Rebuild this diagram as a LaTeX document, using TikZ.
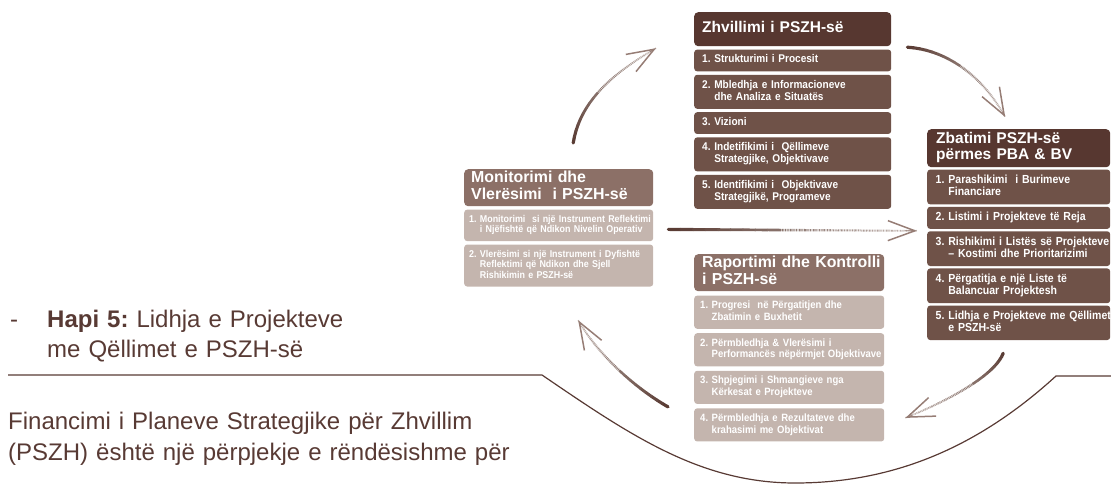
\documentclass[tikz,border=0pt]{standalone}
\usepackage{fontspec}
\setmainfont{Liberation Sans}
\newfontfamily\itemfont[FakeStretch=0.9]{Liberation Sans}
\usetikzlibrary{arrows.meta, positioning}
\usepackage{xcolor}
\frenchspacing
\definecolor{headdark}{RGB}{87,55,48}
\definecolor{itemdark}{RGB}{111,82,72}
\definecolor{headlight}{RGB}{140,112,103}
\definecolor{itemlight}{RGB}{196,181,174}
\definecolor{textbrown}{RGB}{88,58,52}
\definecolor{arrowdark}{RGB}{90,60,52}
\definecolor{arrowlight}{RGB}{200,188,183}
\definecolor{arrowtipcol}{RGB}{150,125,117}
\newcommand\itempad{8pt}
\newcommand\itemline[1]{\leavevmode\rlap{\hspace*{\itempad}\strut#1}}
\newcommand\hangnum{\phantom{0. }}
\newcommand\flowarrow[2]{%
	\foreach \i in {0,...,20}{\path #2 coordinate[pos=\i/20] (#1\i);}
	\foreach \i in {0,...,19}{%
		\pgfmathtruncatemacro\j{\i+1}%
		\pgfmathtruncatemacro\mix{100-\i*5}%
		\pgfmathsetmacro\lw{3.2-\i*0.08}%
		\ifnum\i<9
			\draw[line width=\lw pt, color=arrowdark!\mix!arrowlight, line cap=round] (#1\i) -- (#1\j);
		\else
			\draw[line width=\lw pt, color=arrowdark!\mix!arrowlight, dash pattern=on 0.9pt off 0.7pt] (#1\i) -- (#1\j);
		\fi
	}
	\draw[flowhead] (#119) -- (#120);
}
\tikzset{%
	hpad/.style={execute at begin node={\def\itempad{#1}}},
	boxhead/.style={
		rectangle,
		rounded corners=4pt,
		text=white,
		align=left,
		inner xsep=0pt,
		inner ysep=2pt,
		anchor=north west
	},
	darkhead/.style={boxhead, fill=headdark, font=\bfseries\fontsize{15.5}{15}\selectfont},
	lighthead/.style={boxhead, fill=headlight, font=\bfseries\fontsize{15.9}{15}\selectfont},
	boxitem/.style={
		rectangle,
		rounded corners=3pt,
		text=white,
		align=left,
		inner xsep=0pt,
		inner ysep=5.25pt,
		minimum height=21pt
	},
	zhitem/.style={boxitem, fill=itemdark, text width=197pt, hpad=8pt,
		font=\itemfont\bfseries\fontsize{11.2}{10.5}\selectfont},
	zbitem/.style={boxitem, fill=itemdark, text width=183pt, hpad=8.5pt,
		font=\itemfont\bfseries\fontsize{11.7}{10.5}\selectfont},
	monitem/.style={boxitem, fill=itemlight, text width=189pt, hpad=5pt,
		font=\itemfont\bfseries\fontsize{9.9}{10.5}\selectfont},
	rpitem/.style={boxitem, fill=itemlight, text width=190pt, hpad=6pt,
		font=\itemfont\bfseries\fontsize{10.6}{10.5}\selectfont},
	flowhead/.style={
		-{Straight Barb[length=27pt,width=20pt,line width=1.5pt]},
		draw=arrowtipcol,
		line width=0.6pt
	},
	bodytext/.style={
		anchor=base west,
		inner sep=0pt,
		text=textbrown,
		align=left,
		font=\fontsize{24}{30}\selectfont
	},
}
\begin{document}
\begin{tikzpicture}[x=1pt, y=-1pt]
	\useasboundingbox (0,0) rectangle (1111,484);
	
	% Draw the top box
	\node[darkhead, text width=197pt, minimum height=34pt, hpad=8pt] (zhhead) at (694,12) {\itemline{Zhvillimi i PSZH-së}};
	\node[zhitem, below=3pt of zhhead] (zh1) {\itemline{1. Strukturimi i Procesit}};
	\node[zhitem, below=3pt of zh1] (zh2) {\itemline{2. Mbledhja e Informacioneve}\\\itemline{\hangnum dhe Analiza e Situatës}};
	\node[zhitem, below=3pt of zh2] (zh3) {\itemline{3. Vizioni}};
	\node[zhitem, below=3pt of zh3] (zh4) {\itemline{4. Indetifikimi i~ Qëllimeve}\\\itemline{\hangnum Strategjike, Objektivave}};
	\node[zhitem, below=3pt of zh4] (zh5) {\itemline{5. Identifikimi i~ Objektivave}\\\itemline{\hangnum Strategjikë, Programeve}};
	
	% Draw the right box
	\node[darkhead, text width=183pt, minimum height=38pt, hpad=9pt] (zbhead) at (927,129) {\itemline{Zbatimi PSZH-së}\\\itemline{përmes PBA \& BV}};
	\node[zbitem, below=2pt of zbhead] (zb1) {\itemline{1. Parashikimi~ i Burimeve}\\\itemline{\hangnum Financiare}};
	\node[zbitem, below=2pt of zb1] (zb2) {\itemline{2. Listimi i Projekteve të Reja}};
	\node[zbitem, below=2pt of zb2] (zb3) {\itemline{3. Rishikimi i Listës së Projekteve}\\\itemline{\hangnum – Kostimi dhe Prioritarizimi}};
	\node[zbitem, below=2pt of zb3] (zb4) {\itemline{4. Përgatitja e një Liste të}\\\itemline{\hangnum Balancuar Projektesh}};
	\node[zbitem, below=2pt of zb4] (zb5) {\itemline{5. Lidhja e Projekteve me Qëllimet}\\\itemline{\hangnum e PSZH-së}};
	
	% Draw the left box
	\node[lighthead, text width=189pt, minimum height=34pt, hpad=7pt] (monhead) at (464,169) {\itemline{Monitorimi dhe}\\\itemline{Vlerësimi~ i PSZH-së}};
	\node[monitem, below=3pt of monhead] (mon1) {\itemline{1. Monitorimi~ si një Instrument Reflektimi}\\\itemline{\hangnum i Njëfishtë që Ndikon Nivelin Operativ}};
	\node[monitem, below=3pt of mon1] (mon2) {\itemline{2. Vlerësimi si një Instrument i Dyfishtë}\\\itemline{\hangnum Reflektimi që Ndikon dhe Sjell}\\\itemline{\hangnum Rishikimin e PSZH-së}};
	
	% Draw the bottom box
	\node[lighthead, text width=190pt, minimum height=34pt, hpad=8pt] (rphead) at (694,254) {\itemline{Raportimi dhe Kontrolli}\\\itemline{i PSZH-së}};
	\node[rpitem, below=4pt of rphead] (rp1) {\itemline{1. Progresi~ në Përgatitjen dhe}\\\itemline{\hangnum Zbatimin e Buxhetit}};
	\node[rpitem, below=4pt of rp1] (rp2) {\itemline{2. Përmbledhja \& Vlerësimi i}\\\itemline{\hangnum Performancës nëpërmjet Objektivave}};
	\node[rpitem, below=4pt of rp2] (rp3) {\itemline{3. Shpjegimi i Shmangieve nga}\\\itemline{\hangnum Kërkesat e Projekteve}};
	\node[rpitem, below=4pt of rp3] (rp4) {\itemline{4. Përmbledhja e Rezultateve dhe}\\\itemline{\hangnum krahasimi me Objektivat}};
	
	% Draw the arrows between the boxes
	\flowarrow{ma}{([xshift=14.5pt,yshift=26pt]monhead.north) .. controls (580,100) and (615,72) .. ([xshift=-38pt,yshift=-19pt]zhhead.west)}
	\flowarrow{mb}{([xshift=16pt,yshift=-18pt]zhhead.east) .. controls (950,50) and (985,80) .. ([xshift=-13.5pt,yshift=12pt]zbhead.north)}
	\flowarrow{mc}{([xshift=-15.5pt,yshift=-13pt]zb5.south) .. controls (995,375) and (950,400) .. ([xshift=21pt,yshift=7pt]rp4.east)}
	\flowarrow{md}{([xshift=-26pt,yshift=18pt]rp4.west) .. controls (630,385) and (595,350) .. ([xshift=19.5pt,yshift=-33.5pt]mon2.south)}
	\flowarrow{me}{([xshift=15pt,yshift=-4pt]mon1.east) -- ([xshift=-10pt,yshift=-13pt]zb2.west)}
	
	% Draw the text on the left
	\node[bodytext, text width=10pt] (dash) at (10,327) {-};
	\node[bodytext, text width=320pt] (hapi) at (47,327) {\textbf{Hapi 5:} Lidhja e Projekteve\\me Qëllimet e PSZH-së};
	\node[bodytext, text width=530pt, font=\fontsize{24}{31}\selectfont] (fin) at (8,429) {Financimi i Planeve Strategjike për Zhvillim\\(PSZH) është një përpjekje e rëndësishme për};
	
	% Draw the rule with the bowl
	\draw[textbrown, line width=1.2pt] (8,375) -- (542,375)
		.. controls (630,435) and (700,483) .. (795,483)
		.. controls (890,483) and (975,450) .. (1056,376) -- (1111,376);
\end{tikzpicture}
\end{document}
